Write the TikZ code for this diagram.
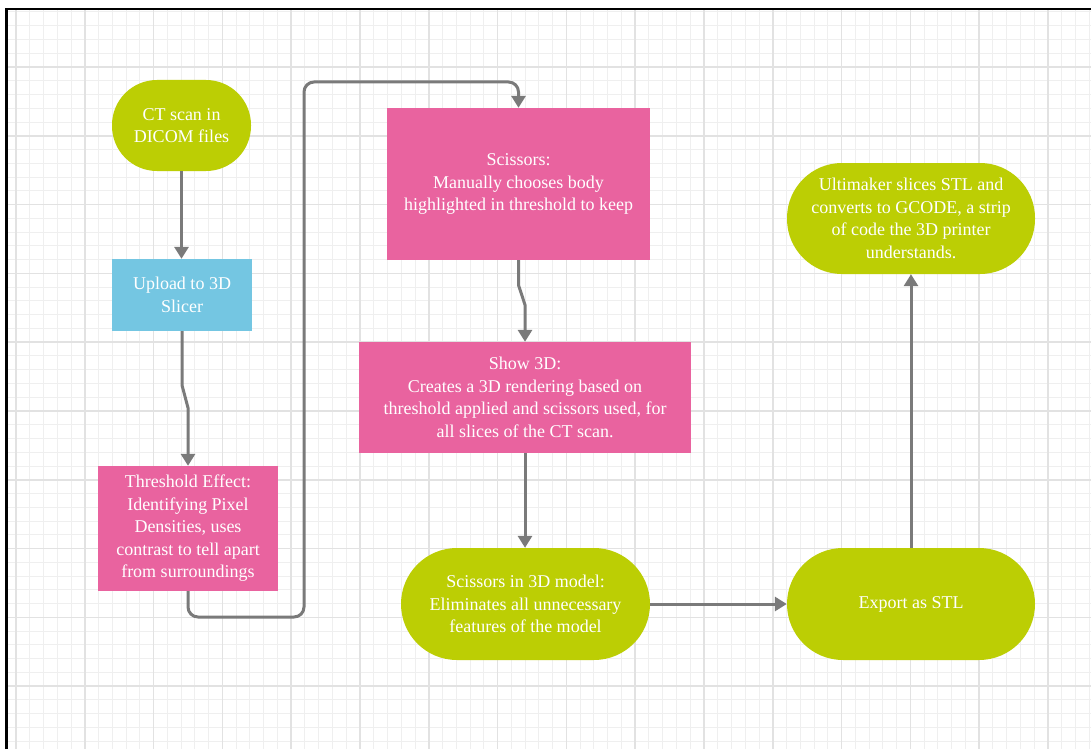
\documentclass[tikz,border=0pt]{standalone}
\usepackage{fontspec}
\setmainfont{Liberation Serif}
\usetikzlibrary{arrows.meta,calc}
\definecolor{limec}{RGB}{188,206,4}
\definecolor{pinkc}{RGB}{233,99,159}
\definecolor{bluec}{RGB}{116,198,226}
\definecolor{linec}{RGB}{122,122,122}
\definecolor{gridminor}{RGB}{239,239,239}
\definecolor{gridmajor}{RGB}{226,226,226}
\tikzset{
  base/.style={text=white, font=\fontsize{18}{22.5}\selectfont, align=center, inner sep=0pt, draw=none},
  stadium/.style={base, fill=limec, rectangle},
  pinkbox/.style={base, fill=pinkc, rectangle},
  bluebox/.style={base, fill=bluec, rectangle},
  conn/.style={draw=linec, line width=3pt, -{Triangle[width=14pt,length=12pt]}},
}
\begin{document}
\begin{tikzpicture}[x=1pt,y=-1pt]
\useasboundingbox (0,0) rectangle (1091,749);
\fill[white] (0,0) rectangle (1091,749);
% grid
\begin{scope}
\clip (7,9) rectangle (1091,749);
\foreach \i in {0,...,80} {
  \pgfmathsetmacro\xx{2.24+13.76*\i}
  \draw[gridminor, line width=1pt] (\xx,0) -- (\xx,749);
}
\foreach \i in {0,...,56} {
  \pgfmathsetmacro\yy{-1.8+13.76*\i}
  \draw[gridminor, line width=1pt] (0,\yy) -- (1091,\yy);
}
\foreach \i in {0,...,16} {
  \pgfmathsetmacro\xx{16+68.8*\i}
  \draw[gridmajor, line width=1.5pt] (\xx,0) -- (\xx,749);
}
\foreach \i in {0,...,10} {
  \pgfmathsetmacro\yy{-1.8+68.8*\i}
  \draw[gridmajor, line width=1.5pt] (0,\yy) -- (1091,\yy);
}
\end{scope}
% frame
\draw[black, line width=2.8pt] (6.5,749) -- (6.5,9) -- (1091,9);

% nodes
\node[stadium, minimum width=139pt, minimum height=91pt, rounded corners=45pt] (ct) at (181.5,125.5) {\fontsize{18}{26}\selectfont CT scan in\\DICOM files};
\node[bluebox, minimum width=140pt, minimum height=72pt] (up) at (182,295) {\fontsize{18}{26}\selectfont Upload to 3D\\Slicer};
\node[pinkbox, minimum width=180pt, minimum height=125pt] (th) at (188,528.5) {Threshold Effect:\\Identifying Pixel\\Densities, uses\\contrast to tell apart\\from surroundings};
\node[pinkbox, minimum width=263pt, minimum height=152pt] (sc) at (518.5,184) {Scissors:\\Manually chooses body\\highlighted in threshold to keep};
\node[pinkbox, minimum width=332pt, minimum height=111pt] (s3d) at (525,397.5) {Show 3D:\\Creates a 3D rendering based on\\threshold applied and scissors used, for\\all slices of the CT scan.};
\node[stadium, minimum width=249pt, minimum height=112pt, rounded corners=56pt] (m3d) at (525.5,604) {Scissors in 3D model:\\Eliminates all unnecessary\\features of the model};
\node[stadium, minimum width=248pt, minimum height=112pt, rounded corners=56pt] (ex) at (911,604) {Export as STL};
\node[stadium, minimum width=248pt, minimum height=111pt, rounded corners=55pt] (ul) at (911,218.5) {Ultimaker slices STL and\\converts to GCODE, a strip\\of code the 3D printer\\understands.};

% connectors
\coordinate (l1) at (304,617);
\coordinate (l2) at (304,82);
\draw[conn] (ct.south) -- (ct.south |- up.north);
\draw[conn] (up.south) -- ($(up.south)+(0,54)$) -- ($(th.north)+(0,-58)$) -- (th.north);
\draw[conn, rounded corners=10pt] (th.south) |- (l1) -- (l2) -| (sc.north);
\draw[conn] (sc.south) -- ($(sc.south)+(0,25)$) -- ($(s3d.north)+(0,-37)$) -- (s3d.north);
\draw[conn] (s3d.south) -- (s3d.south |- m3d.north);
\draw[conn] (m3d.east) -- (m3d.east -| ex.west);
\draw[conn] (ex.north) -- (ex.north |- ul.south);
\end{tikzpicture}
\end{document}
